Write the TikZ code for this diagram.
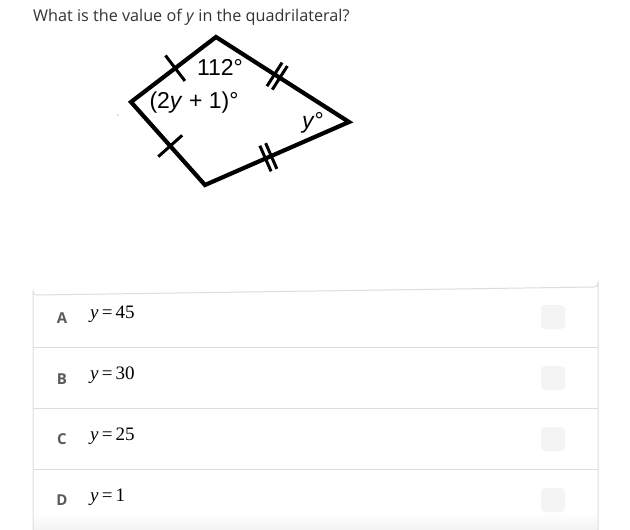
\documentclass[tikz,border=0pt]{standalone}
\usepackage{fontspec}
\setmainfont{Open Sans}
\newfontfamily\figfont{Liberation Sans}
\newfontfamily\ansfont{Liberation Serif}
\usetikzlibrary{calc}
\definecolor{qtext}{HTML}{333333}
\definecolor{lettergray}{HTML}{5A5A5A}
\definecolor{rulegray}{HTML}{DDDDDD}
\definecolor{boxgray}{HTML}{F4F4F4}
\definecolor{shadegray}{HTML}{F3F3F3}
\tikzset{
  edge/.style={line width=4.2pt, line join=miter},
  tick/.style={line width=3pt},
  figlabel/.style={font=\figfont\fontsize{23}{25}\selectfont, inner sep=0pt},
  letter/.style={font=\bfseries\fontsize{15}{17}\selectfont, text=lettergray, inner sep=0pt},
  answer/.style={font=\ansfont\fontsize{19}{21}\selectfont, text=black, inner sep=0pt, anchor=west},
  checkbox/.style={fill=boxgray, rounded corners=4pt, draw=none},
  rowrule/.style={draw=rulegray, line width=1pt}
}
\begin{document}
\begin{tikzpicture}[x=1pt,y=-1pt]
\useasboundingbox (0,0) rectangle (630,530);
\fill[white] (0,0) rectangle (630,530);

% question
\node[anchor=west, inner sep=0pt, text=qtext, font=\fontsize{16.2}{19}\selectfont] (q) at (33,17) {What is the value of \textit{y} in the quadrilateral?};

% quadrilateral
\coordinate (T) at (216,37);
\coordinate (L) at (131,102);
\coordinate (B) at (205,185);
\coordinate (R) at (349,122);
\draw[edge] (T) -- (L) -- (B) -- (R) -- cycle;

% single ticks
\draw[tick] ($(T)!0.48!(L)!16pt!90:(L)$) -- ($(T)!0.48!(L)!16pt!-90:(L)$);
\draw[tick] ($(L)!0.53!(B)!16pt!90:(B)$) -- ($(L)!0.53!(B)!16pt!-90:(B)$);
% double ticks
\foreach \t in {0.44,0.48}{
  \draw[tick] ($(T)!\t!(R)!14pt!90:(R)$) -- ($(T)!\t!(R)!14pt!-90:(R)$);
}
\foreach \t in {0.42,0.46}{
  \draw[tick] ($(B)!\t!(R)!14pt!90:(R)$) -- ($(B)!\t!(R)!14pt!-90:(R)$);
}

% labels
\node[figlabel] (a112) at (220,67) {112\textdegree};
\node[figlabel] (a2y) at (194,103) {(2\textit{y} + 1)\textdegree};
\node[figlabel] (ay) at (313,123) {\textit{y}\textdegree};
\fill[gray] (118,115) circle (0.6pt);

% answer panel
\shade[top color=white, bottom color=shadegray] (33,512) rectangle (598,530);
\draw[rowrule] (33,535) -- (33,291) arc[start angle=180,end angle=90,radius=4] -- (594,287) arc[start angle=90,end angle=0,radius=4] -- (598,535);
\draw[rowrule] (33,347.5) -- (598,347.5);
\draw[rowrule] (33,408.5) -- (598,408.5);
\draw[rowrule] (33,469.5) -- (598,469.5);

\node[letter] (la) at (62,318) {A};
\node[letter] (lb) at (62,379) {B};
\node[letter] (lc) at (62,439) {C};
\node[letter] (ld) at (62,500) {D};

\node[answer] (xa) at (90,314) {\textit{y}\,=\,45};
\node[answer] (xb) at (90,375) {\textit{y}\,=\,30};
\node[answer] (xc) at (90,436) {\textit{y}\,=\,25};
\node[answer] (xd) at (90,497) {\textit{y}\,=\,1};

\foreach \yy/\nm in {317/ca,378/cb,439/cc,500/cd}{
  \node[checkbox, minimum width=24pt, minimum height=24pt] (\nm) at (553,\yy) {};
}
\end{tikzpicture}
\end{document}
